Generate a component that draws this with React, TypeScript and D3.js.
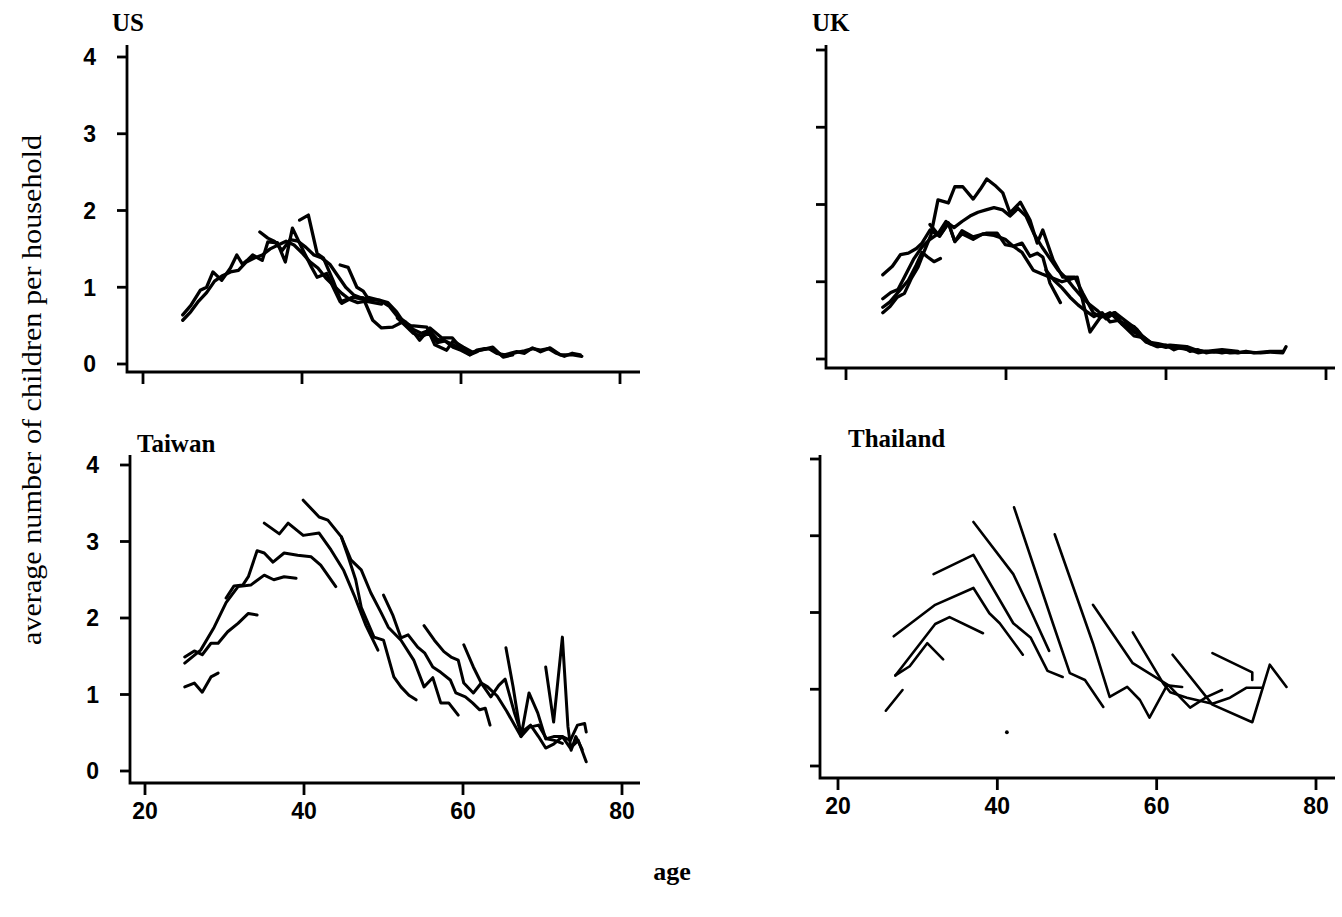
import React from 'react';
import * as d3 from 'd3';

type Pt = [number, number];

// ---------- tick values / labels ----------
const xTickValues = [20, 40, 60, 80];
const xTickLabels = ['20', '40', '60', '80'];
const yTickValues = [0, 1, 2, 3, 4];
const yTickLabels = ['0', '1', '2', '3', '4'];

// ---------- US cohorts: [age, children per household] ----------
const usA: Pt[] = [[25,0.64],[26,0.76],[27.2,0.96],[28,1.0],[28.8,1.2],[29.9,1.09],[31,1.25],[31.8,1.42],[32.5,1.3],[33.1,1.35],[33.8,1.42],[35,1.35],[35.7,1.59],[36.9,1.58],[37.9,1.33],[38.8,1.77],[40,1.51],[41.2,1.26],[41.9,1.13],[43.1,1.18],[44.8,0.81],[46.4,0.87],[47.5,0.85]];
const usB: Pt[] = [[25,0.57],[26,0.68],[27,0.82],[28,0.93],[29,1.08],[30,1.15],[31,1.2],[32,1.22],[33,1.33],[34,1.38],[35,1.42],[36,1.5],[37,1.55],[38,1.6],[39,1.55],[40,1.45],[41,1.33],[42,1.25],[43,1.12],[44,1.02],[45,0.92],[46,0.84],[47,0.8],[48,0.82],[49,0.8],[50,0.78]];
const usC: Pt[] = [[34.7,1.72],[35.7,1.64],[36.5,1.6],[37.5,1.48],[38.5,1.62],[39.5,1.6],[40.5,1.52],[41.5,1.42],[42.5,1.38],[43.5,1.3],[44.5,1.15],[45.5,1.0],[46.5,0.9],[47.5,0.86],[48.5,0.84],[49.8,0.83],[50.8,0.8],[51.9,0.68],[53,0.51],[54,0.42],[54.8,0.31],[56.1,0.47],[57.6,0.34],[58.9,0.34],[59.9,0.22],[61.1,0.12],[62,0.16]];
const usD: Pt[] = [[39.7,1.875],[40.8,1.94],[41.9,1.44],[42.7,1.38],[43.9,1.09],[45,0.79],[46.4,0.87],[47.7,0.86],[48.9,0.57],[50,0.47],[51.4,0.48],[52.7,0.55],[53.7,0.5],[55.7,0.48],[56.7,0.25],[58.2,0.18],[59,0.3],[60.3,0.22],[61.5,0.15],[62.4,0.18],[64,0.22],[65.3,0.09],[66.5,0.12]];
const usE: Pt[] = [[44.8,1.29],[45.8,1.26],[46.9,1.0],[47.7,0.95],[48.2,0.87],[49.8,0.83],[51,0.75],[52,0.62],[53,0.55],[54,0.45],[55,0.4],[56,0.44],[57,0.32],[58,0.3],[59,0.25],[60,0.2],[61,0.14],[62.4,0.18],[63.5,0.2],[64.5,0.14],[65.5,0.12],[67,0.16],[68,0.14],[69,0.21],[70,0.16],[71.2,0.21],[72.5,0.12],[74.1,0.12],[75.2,0.1]];
const usF: Pt[] = [[52,0.6],[53,0.5],[54,0.4],[55,0.36],[56,0.4],[57,0.28],[58,0.3],[59,0.22],[60,0.18],[61.1,0.12],[62,0.18],[63,0.2],[64,0.2],[65,0.12],[66,0.12],[67,0.15],[68,0.17],[69,0.2],[70,0.18],[71,0.2],[72,0.14],[73,0.1],[74,0.14],[75,0.12]];

// ---------- UK cohorts ----------
const ukA: Pt[] = [[24.6,1.09],[25.8,1.2],[26.8,1.35],[27.8,1.37],[28.8,1.43],[29.5,1.5],[30.5,1.67],[31.7,1.59],[32.8,1.76],[33.6,1.52],[34.5,1.66],[35.9,1.58],[37.6,1.63],[38.9,1.63],[39.9,1.48],[40.9,1.46],[42,1.5],[43,1.33],[43.9,1.37],[44.6,1.32],[45.5,0.98],[46.8,0.73]];
const ukB: Pt[] = [[24.6,0.67],[25.5,0.74],[26.4,0.85],[27.8,1.02],[28.8,1.22],[29.5,1.38],[30.2,1.32],[31,1.26],[31.8,1.3]];
const ukC: Pt[] = [[24.6,0.6],[25.5,0.68],[26.4,0.8],[27.3,0.85],[28.2,1.05],[29,1.19],[29.8,1.4],[30.6,1.6],[31.5,2.06],[32.8,2.02],[33.6,2.23],[34.6,2.23],[35.9,2.07],[36.8,2.2],[37.6,2.33],[38.6,2.25],[39.6,2.15],[40.5,1.89],[41.8,2.03],[43,1.8],[43.9,1.5],[44.6,1.67],[45.9,1.28],[47.1,1.06],[48.6,1.06],[49.6,0.85],[50.9,0.6],[51.8,0.54],[53,0.6],[54,0.5],[55,0.45],[56,0.42],[57,0.3],[58,0.22]];
const ukD: Pt[] = [[24.6,0.78],[25.6,0.86],[26.5,0.9],[27.5,1.1],[28.5,1.3],[29.5,1.45],[30.5,1.55],[31.5,1.62],[32.5,1.78],[33.5,1.7],[34.5,1.78],[35.5,1.85],[36.5,1.9],[37.5,1.93],[38.5,1.96],[39.6,1.93],[40.5,1.85],[41.5,1.95],[42.5,1.85],[43.5,1.62],[44.5,1.45],[45.5,1.3],[46.5,1.15],[47.5,1.05],[48.5,0.92],[49.5,0.8],[50.5,0.7],[51.5,0.62],[52.5,0.52],[53.6,0.6],[54.5,0.45],[55.5,0.4],[56.5,0.32],[57.5,0.22],[58.9,0.16],[60.5,0.18],[62.6,0.16],[64.2,0.1]];
const ukE: Pt[] = [[30.5,1.74],[31.7,1.59],[32.8,1.76],[33.6,1.52],[34.5,1.62],[35.9,1.55],[37.1,1.62],[38.5,1.6],[39.9,1.55],[40.9,1.46],[42,1.38],[43.4,1.15],[44.5,1.1],[45.5,1.06],[47,1.0],[48.9,1.06],[50.5,0.35],[51.8,0.54],[53.6,0.6],[55.1,0.48],[56.4,0.38],[57.6,0.22],[59,0.2],[61,0.15],[63,0.12],[65,0.1],[67,0.12],[69,0.1]];
const ukF: Pt[] = [[45,1.15],[46,1.02],[47,0.92],[48,0.8],[49,0.7],[50,0.62],[51,0.55],[52,0.6],[53,0.48],[54,0.5],[55,0.4],[56,0.3],[57,0.28],[58,0.2],[59,0.18],[60,0.15],[61,0.17],[62,0.14],[63,0.12],[64,0.08],[65,0.1],[66,0.09],[67,0.1],[68,0.08],[70,0.09],[71.8,0.08],[73,0.09],[74.6,0.08],[75,0.16]];
const ukG: Pt[] = [[55,0.45],[56,0.35],[57,0.3],[58,0.22],[59,0.16],[60,0.18],[61,0.12],[62,0.16],[63,0.1],[64,0.12],[65,0.08],[66,0.1],[67,0.08],[68,0.1],[69,0.08],[70,0.1],[71,0.08],[72,0.09],[73,0.1],[74.6,0.1]];

// ---------- Taiwan cohorts ----------
const twA: Pt[] = [[25,1.1],[26.2,1.15],[27.2,1.03],[28.3,1.23],[29.2,1.28]];
const twB: Pt[] = [[25,1.49],[26.2,1.57],[27.2,1.52],[28.3,1.67],[29.2,1.67],[30.4,1.82],[31.7,1.93],[33,2.06],[34.1,2.04]];
const twC: Pt[] = [[25,1.41],[27,1.58],[28.7,1.88],[30.2,2.2],[31.7,2.41],[33.3,2.43],[35,2.56],[36.2,2.5],[37.5,2.54],[39,2.52]];
const twD: Pt[] = [[30.2,2.26],[31.2,2.42],[32.3,2.43],[33,2.54],[34.1,2.88],[35,2.85],[36.1,2.73],[37.5,2.85],[39.2,2.82],[40.9,2.8],[42.1,2.69],[44,2.41]];
const twE: Pt[] = [[35,3.24],[36.9,3.1],[38,3.24],[39.9,3.08],[41.9,3.11],[43.4,2.89],[45,2.62],[46.3,2.3],[47.8,1.9],[49.3,1.58]];
const twF: Pt[] = [[39.9,3.54],[41.9,3.32],[43,3.28],[44.7,3.06],[45.5,2.82],[46.5,2.5],[47.2,2.14],[48.8,1.75],[50,1.71],[51.3,1.23],[52.2,1.1],[53.2,0.99],[54.1,0.93]];
const twG: Pt[] = [[44.7,3.06],[45.9,2.76],[47.2,2.63],[48.4,2.33],[49.7,2.07],[50.6,1.88],[52.2,1.71],[53.8,1.45],[55.1,1.1],[56.2,1.22],[57.2,0.89],[58.2,0.89],[59.4,0.73]];
const twH: Pt[] = [[50,2.3],[51.2,2.03],[52.2,1.74],[53.1,1.78],[54.3,1.62],[55.2,1.54],[56.2,1.36],[57.2,1.29],[58.4,1.19],[59.1,1.02],[60.3,0.97],[61.2,0.89],[62.1,0.8],[62.8,0.82],[63.4,0.6]];
const twI: Pt[] = [[55.1,1.9],[56.4,1.71],[57.6,1.56],[58.5,1.49],[59.4,1.45],[60.1,1.15],[61.3,1.02],[62.3,1.15],[63.1,1.1],[64.3,0.98],[65.5,0.78],[67.3,0.45],[68.3,0.57],[69.5,0.6],[70.5,0.42],[71.5,0.4],[72.5,0.36]];
const twJ: Pt[] = [[60.1,1.65],[61.3,1.36],[62.3,1.15],[63.5,0.97],[64.5,1.12],[65.3,1.2],[66.5,0.75],[67.3,0.5],[68.5,0.6],[69.5,0.45],[70.4,0.3],[71.4,0.35],[72.5,0.45],[73.5,0.3],[74.5,0.4],[75.5,0.12]];
const twK: Pt[] = [[65.4,1.61],[66.3,1.1],[67.3,0.45],[68.3,1.02],[69.4,0.76],[70.4,0.42],[71.4,0.45],[72.5,0.45],[73.5,0.4],[74.4,0.6],[75.3,0.62],[75.5,0.51]];
const twL: Pt[] = [[70.4,1.36],[71.4,0.64],[72.5,1.75],[73.2,0.58],[73.6,0.27],[74.2,0.45],[75,0.28]];

// ---------- Thailand cohorts ----------
const thA: Pt[] = [[26,0.72],[28.1,0.99]];
const thB: Pt[] = [[27.2,1.18],[29,1.3],[31.2,1.6],[33.2,1.39]];
const thC: Pt[] = [[27.2,1.18],[32.2,1.85],[34,1.94],[38.2,1.73]];
const thD: Pt[] = [[27,1.69],[32.2,2.1],[37,2.32],[39,1.99],[40.3,1.86],[43.2,1.45]];
const thE: Pt[] = [[32,2.5],[37,2.75],[42,1.86],[44.2,1.67],[46.3,1.24],[48.2,1.16]];
const thF: Pt[] = [[37,3.18],[42,2.5],[44.3,2.0],[46.5,1.5]];
const thG: Pt[] = [[42.1,3.37],[47,1.85],[49.1,1.21],[51,1.12],[53.3,0.77]];
const thH: Pt[] = [[47.2,3.02],[52,1.6],[54.1,0.9],[56.3,1.03],[57.9,0.86],[59.1,0.63],[61.3,1.05],[63.2,1.03]];
const thI: Pt[] = [[52,2.1],[57,1.34],[61.5,1.05],[64.2,0.76],[66.3,0.9],[68.2,0.99]];
const thJ: Pt[] = [[57,1.74],[60.8,1.08],[61.7,0.96],[63.8,0.89],[67,0.81],[69.2,0.89],[71.3,1.02],[73.3,1.02]];
const thK: Pt[] = [[62,1.45],[67,0.8],[72,0.57],[74.2,1.32],[76.3,1.03]];
const thL: Pt[] = [[67,1.47],[72,1.22],[72,1.12]];
const thDot: Pt[] = [[41.2,0.44]];

// ---------- panel layout (pixel geometry of each small plot) ----------
interface Panel {
  title: string; titleX: number; titleY: number;
  cohorts: Pt[][]; dots: Pt[];
  px20: number; px80: number; py0: number; py4: number;
  axisX: number; axisTop: number; axisY: number; axisRight: number;
  yLabels: boolean; xLabels: boolean; xLabelY: number; sw: number;
}

const panels: Panel[] = [
  { title: 'US', titleX: 112, titleY: 31, cohorts: [usA, usB, usC, usD, usE, usF], dots: [],
    px20: 143, px80: 620, py0: 364, py4: 57, axisX: 127, axisTop: 45, axisY: 372, axisRight: 640,
    yLabels: true, xLabels: false, xLabelY: 0, sw: 3.3 },
  { title: 'UK', titleX: 812, titleY: 31, cohorts: [ukA, ukB, ukC, ukD, ukE, ukF, ukG], dots: [],
    px20: 846, px80: 1326, py0: 359, py4: 50, axisX: 826, axisTop: 45, axisY: 368, axisRight: 1335,
    yLabels: false, xLabels: false, xLabelY: 0, sw: 3.3 },
  { title: 'Taiwan', titleX: 137, titleY: 452, cohorts: [twA, twB, twC, twD, twE, twF, twG, twH, twI, twJ, twK, twL], dots: [],
    px20: 145, px80: 622, py0: 771, py4: 465, axisX: 130, axisTop: 455, axisY: 783, axisRight: 640,
    yLabels: true, xLabels: true, xLabelY: 819, sw: 3 },
  { title: 'Thailand', titleX: 848, titleY: 447, cohorts: [thA, thB, thC, thD, thE, thF, thG, thH, thI, thJ, thK, thL], dots: thDot,
    px20: 838, px80: 1316, py0: 766, py4: 459, axisX: 820, axisTop: 455, axisY: 778, axisRight: 1335,
    yLabels: false, xLabels: true, xLabelY: 814, sw: 2.6 },
];

const sansFont = '"Liberation Sans", Arial, Helvetica, sans-serif';
const serifFont = '"Liberation Serif", "Times New Roman", serif';

function PanelView({ p }: { p: Panel }) {
  const x = d3.scaleLinear().domain([20, 80]).range([p.px20, p.px80]);
  const y = d3.scaleLinear().domain([0, 4]).range([p.py0, p.py4]);
  const line = d3.line<Pt>().x(d => x(d[0])).y(d => y(d[1]));
  return (
    <g>
      <text x={p.titleX} y={p.titleY} fontFamily={serifFont} fontWeight="bold" fontSize={25} fill="#000">{p.title}</text>
      <path d={`M${p.axisX},${p.axisTop}V${p.axisY}H${p.axisRight}`} fill="none" stroke="#000" strokeWidth={2.8} />
      {yTickValues.map((v, i) => (
        <g key={'y' + v}>
          <line x1={p.axisX - 10} x2={p.axisX} y1={y(v)} y2={y(v)} stroke="#000" strokeWidth={2.8} />
          {p.yLabels && (
            <text x={p.axisX - 31} y={y(v)} dy="0.36em" textAnchor="end" fontFamily={sansFont}
              fontWeight="bold" fontSize={23} fill="#000">{yTickLabels[i]}</text>
          )}
        </g>
      ))}
      {xTickValues.map((v, i) => (
        <g key={'x' + v}>
          <line x1={x(v)} x2={x(v)} y1={p.axisY} y2={p.axisY + 12} stroke="#000" strokeWidth={2.8} />
          {p.xLabels && (
            <text x={x(v)} y={p.xLabelY} textAnchor="middle" fontFamily={sansFont}
              fontWeight="bold" fontSize={23} fill="#000">{xTickLabels[i]}</text>
          )}
        </g>
      ))}
      {p.cohorts.map((c, i) => (
        <path key={'c' + i} d={line(c) || ''} fill="none" stroke="#000" strokeWidth={p.sw}
          strokeLinejoin="round" strokeLinecap="round" />
      ))}
      {p.dots.map((d, i) => (
        <circle key={'d' + i} cx={x(d[0])} cy={y(d[1])} r={1.9} fill="#000" />
      ))}
    </g>
  );
}

export default function App() {
  return (
    <svg width={1342} height={917} viewBox="0 0 1342 917"
      style={{ position: 'absolute', left: 0, top: 0, background: '#fff' }}>
      <rect x={0} y={0} width={1342} height={917} fill="#fff" />
      {panels.map(p => <PanelView key={p.title} p={p} />)}
      <text transform="translate(41,390) rotate(-90)" textAnchor="middle" fontFamily={serifFont}
        fontSize={27} textLength={510} lengthAdjust="spacingAndGlyphs" fill="#000">
        average number of children per household
      </text>
      <text x={672} y={880} textAnchor="middle" fontFamily={serifFont} fontWeight="bold" fontSize={26} fill="#000">age</text>
    </svg>
  );
}
